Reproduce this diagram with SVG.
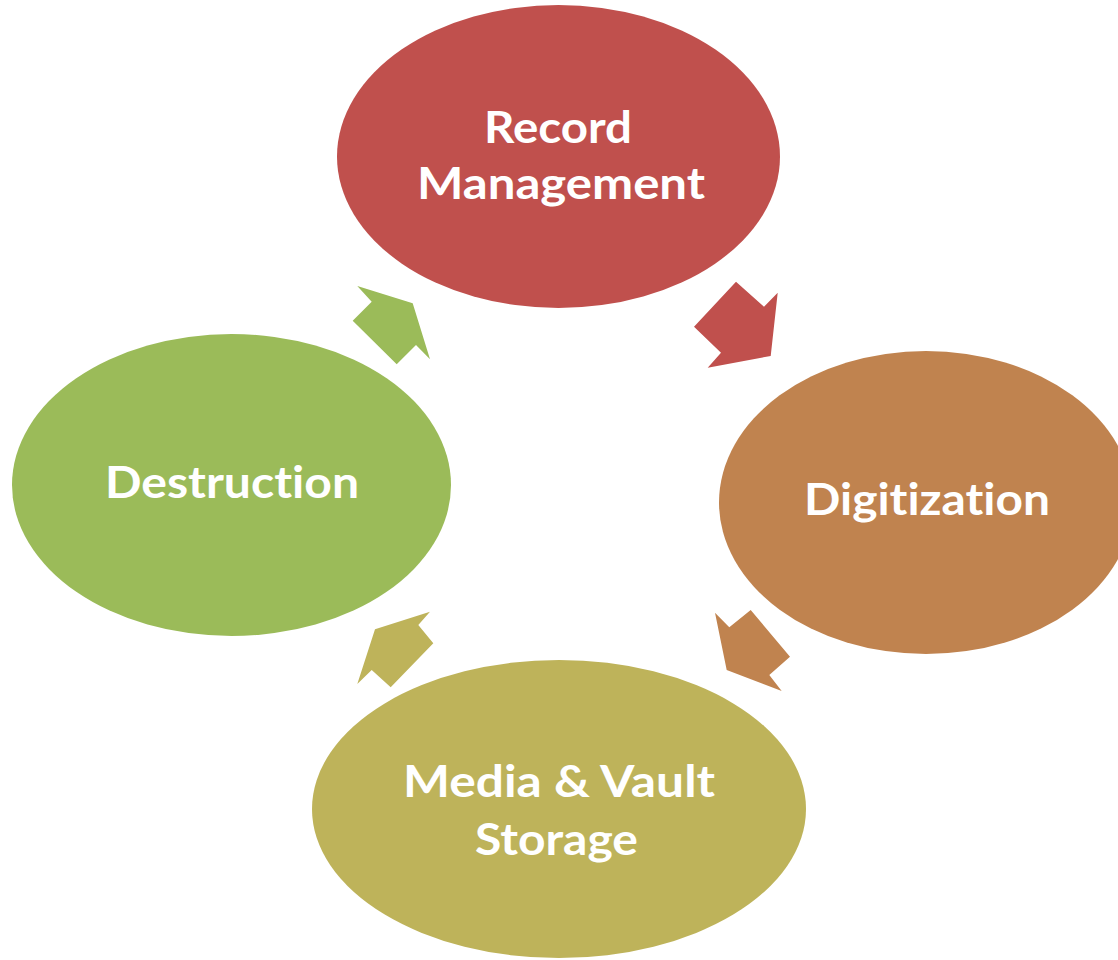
<svg xmlns="http://www.w3.org/2000/svg" width="1118" height="960" viewBox="0 0 1118 960">
<style>
.lbl{font-family:Lato,"Open Sans","Liberation Sans",sans-serif;font-weight:bold;font-size:44px;fill:#ffffff;text-anchor:middle;font-variant-ligatures:none;font-feature-settings:"liga" 0,"clig" 0,"dlig" 0}
</style>
<rect x="0" y="0" width="1118" height="960" fill="#ffffff"/>
<g id="connectors">
<polygon fill="#C0504D" points="736,281.7 764,306.7 777.7,292.7 770.7,356 707.7,367.7 721,352.7 694,326.7"/>
<polygon fill="#C0834F" points="715,612.7 729.3,627.3 750.7,610 790,656.7 769.3,675 781.7,691 726.7,670"/>
<polygon fill="#BEB35A" points="430,611.7 418.3,625 433.3,643.3 390.7,687.3 371.7,670 357.3,684 375,629.3"/>
<polygon fill="#9BBB59" points="357.3,286 371.7,301.7 352.7,320.7 396.7,364.3 416,345 430,359.3 412.7,303.3"/>
</g>
<g id="record-management">
<ellipse cx="558.5" cy="156.5" rx="221.5" ry="151.5" fill="#C0504D"/>
<text class="lbl" x="558" y="143" textLength="148" lengthAdjust="spacingAndGlyphs">Record</text>
<text class="lbl" x="561" y="199" textLength="288" lengthAdjust="spacingAndGlyphs">Management</text>
</g>
<g id="digitization">
<ellipse cx="926" cy="502.5" rx="207" ry="151.5" fill="#C0834F"/>
<text class="lbl" x="927" y="515" textLength="246" lengthAdjust="spacingAndGlyphs">Digitization</text>
</g>
<g id="media-vault-storage">
<ellipse cx="559" cy="809" rx="247" ry="149" fill="#BEB35A"/>
<text class="lbl" x="559" y="797" textLength="312" lengthAdjust="spacingAndGlyphs">Media &amp; Vault</text>
<text class="lbl" x="556.5" y="855" textLength="163" lengthAdjust="spacingAndGlyphs">Storage</text>
</g>
<g id="destruction">
<ellipse cx="231.5" cy="485" rx="219.5" ry="151" fill="#9BBB59"/>
<text class="lbl" x="232" y="498" textLength="254" lengthAdjust="spacingAndGlyphs">Destruction</text>
</g>
</svg>
